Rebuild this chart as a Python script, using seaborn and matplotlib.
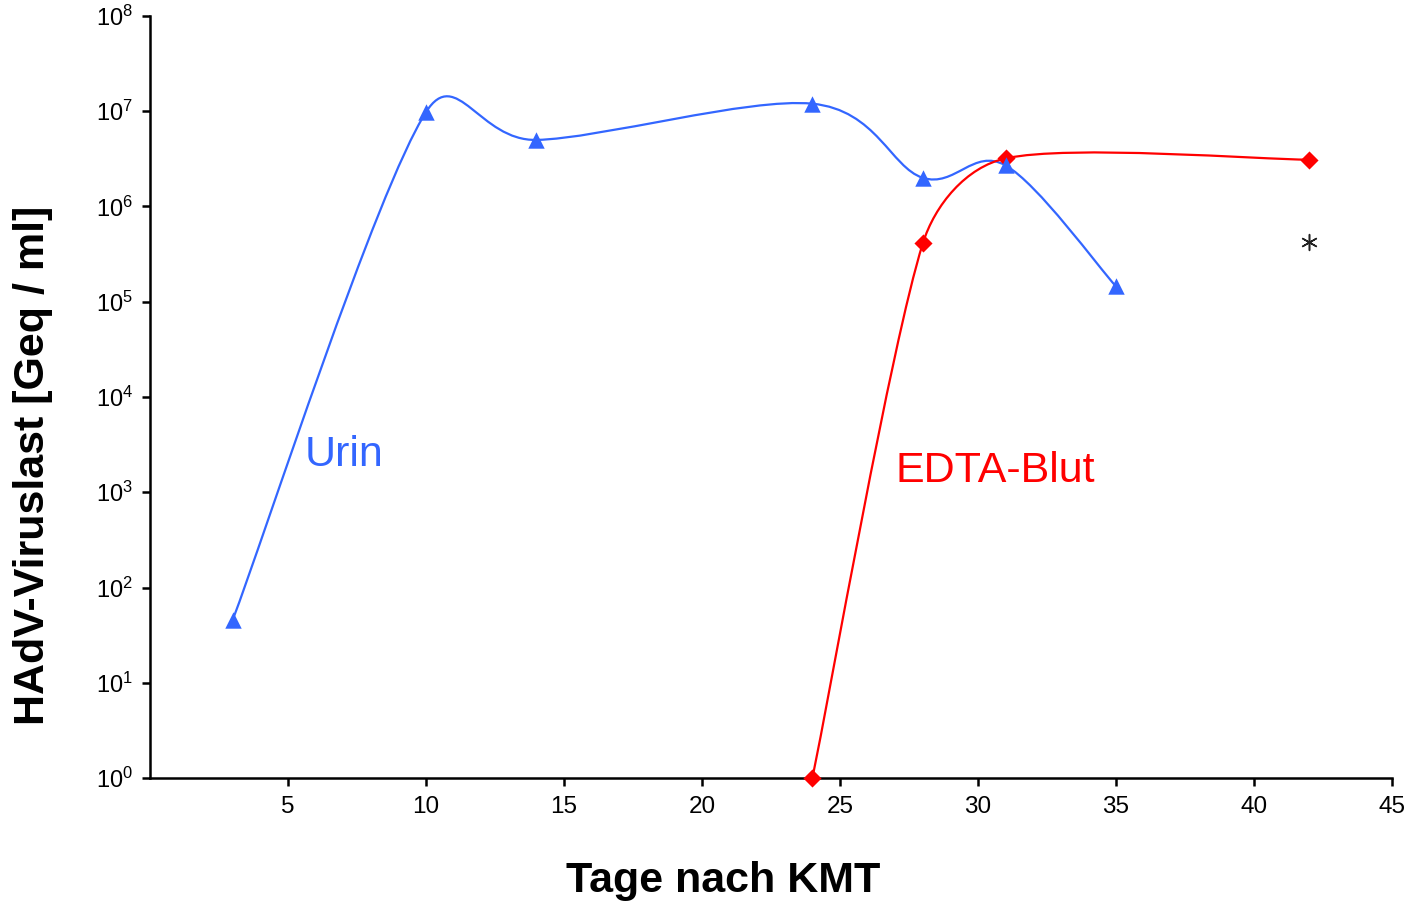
import numpy as np
import pandas as pd
import matplotlib
matplotlib.use("Agg")
import matplotlib.pyplot as plt
import seaborn as sns
from matplotlib.path import Path
from matplotlib.patches import PathPatch

# ---------------- data ----------------
urin_days = [3, 10, 14, 24, 28, 31, 35]
urin_vals = [46, 9.8e6, 5.0e6, 1.2e7, 2.0e6, 2.7e6, 1.45e5]

blut_days = [24, 28, 31, 42]
blut_vals = [1.0, 4.1e5, 3.2e6, 3.1e6]

star_days = [42]
star_vals = [4.2e5]

x_ticks = [5, 10, 15, 20, 25, 30, 35, 40, 45]
x_tick_labels = ["5", "10", "15", "20", "25", "30", "35", "40", "45"]
y_ticks = [1e0, 1e1, 1e2, 1e3, 1e4, 1e5, 1e6, 1e7, 1e8]
y_tick_labels = [r"$\mathregular{10^{%d}}$" % i for i in range(9)]

x_label = "Tage nach KMT"
y_label = "HAdV-Viruslast [Geq / ml]"
urin_label = "Urin"
blut_label = "EDTA-Blut"

BLUE = "#3366FF"
RED = "#FF0000"

# ---------------- style ----------------
sns.set_theme(style="ticks")
plt.rcParams["font.family"] = ["Liberation Sans", "DejaVu Sans"]
plt.rcParams["mathtext.fontset"] = "custom"
plt.rcParams["mathtext.rm"] = "Liberation Sans"
plt.rcParams["mathtext.it"] = "Liberation Sans:italic"
plt.rcParams["mathtext.bf"] = "Liberation Sans:bold"

fig = plt.figure(figsize=(14.11, 9.05), dpi=100)
ax = fig.add_axes([150 / 1411, 127 / 905, 1242 / 1411, 762 / 905])
ax.set_yscale("log")
ax.set_xlim(0, 45)
ax.set_ylim(1e0, 1e8)


def excel_smooth(ax, xs, ys, color, cap=0.5, lw=1.6):
    """Excel-like smoothed line: cubic Bezier through points (control points in display space)."""
    pts = ax.transData.transform(np.column_stack([xs, ys]))
    n = len(pts)
    verts = [pts[0]]
    codes = [Path.MOVETO]
    for i in range(n - 1):
        p1 = pts[i]
        p2 = pts[i + 1]
        p0 = pts[i - 1] if i > 0 else p1
        p3 = pts[i + 2] if i + 2 < n else p2
        d12 = np.hypot(*(p2 - p1))
        t1 = p2 - p0
        t2 = p3 - p1
        l1 = np.hypot(*t1)
        l2 = np.hypot(*t2)
        f1 = min(1 / 6, cap * d12 / l1) if l1 > 0 else 0
        f2 = min(1 / 6, cap * d12 / l2) if l2 > 0 else 0
        c1 = p1 + t1 * f1
        c2 = p2 - t2 * f2
        verts += [c1, c2, p2]
        codes += [Path.CURVE4] * 3
    verts = ax.transData.inverted().transform(np.array(verts))
    patch = PathPatch(Path(verts, codes), facecolor="none", edgecolor=color,
                      lw=lw, capstyle="round", joinstyle="round", zorder=2)
    ax.add_patch(patch)


excel_smooth(ax, urin_days, urin_vals, BLUE, cap=0.5)
excel_smooth(ax, blut_days, blut_vals, RED, cap=0.34)

df_u = pd.DataFrame({"day": urin_days, "val": urin_vals})
df_b = pd.DataFrame({"day": blut_days, "val": blut_vals})
df_s = pd.DataFrame({"day": star_days, "val": star_vals})

sns.scatterplot(data=df_b, x="day", y="val", marker="D", s=85, color=RED,
                edgecolor=RED, linewidth=0, ax=ax, zorder=3, clip_on=False)
sns.scatterplot(data=df_u, x="day", y="val", marker="^", s=140, color=BLUE,
                edgecolor=BLUE, linewidth=0, ax=ax, zorder=4, clip_on=False)
ax.scatter(df_s["day"], df_s["val"], marker=(6, 2, 0), s=130, color="#222222",
           linewidths=1.1, zorder=4)

# ---------------- axes ----------------
sns.despine(ax=ax)
for side in ["left", "bottom"]:
    ax.spines[side].set_linewidth(1.8)
    ax.spines[side].set_color("black")
ax.set_xticks(x_ticks)
ax.set_xticklabels(x_tick_labels)
ax.set_yticks(y_ticks)
ax.set_yticklabels(y_tick_labels)
ax.yaxis.set_minor_locator(matplotlib.ticker.NullLocator())
ax.tick_params(axis="both", which="major", direction="out", length=6, width=1.8,
               color="black", labelcolor="black", pad=6)
ax.tick_params(axis="x", labelsize=17.5, pad=7)
ax.tick_params(axis="y", labelsize=17)
ax.set_xlabel("")
ax.set_ylabel("")
ax.grid(False)

fig.text(723 / 1411, 1 - 881 / 905, x_label, ha="center", va="center",
         fontsize=31, fontweight="bold", color="black")
fig.text(33 / 1411, 1 - 465 / 905, y_label, ha="center", va="center",
         rotation=90, fontsize=31, fontweight="bold", color="black")

ax.text(5.62, 10 ** 3.39, urin_label, color=BLUE, fontsize=31, ha="left", va="center")
ax.text(27.0, 10 ** 3.22, blut_label, color=RED, fontsize=31, ha="left", va="center")

fig.savefig("out.png", dpi=100)
